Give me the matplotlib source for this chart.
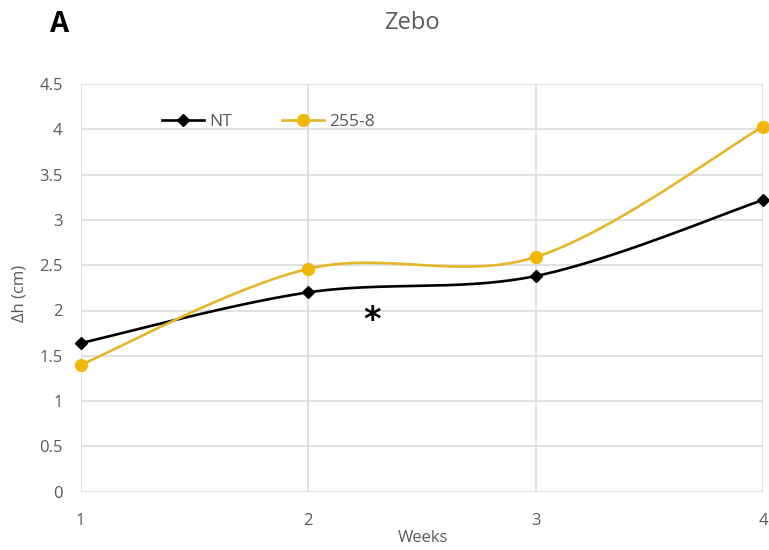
import numpy as np
import matplotlib
matplotlib.use("Agg")
import matplotlib.pyplot as plt
from matplotlib.lines import Line2D

# Plant height gain per week
weeks = [1, 2, 3, 4]
nt_values = [1.64, 2.20, 2.38, 3.22]
line_255_8 = [1.40, 2.46, 2.59, 4.03]
series_names = ["NT", "255-8"]
y_ticks = [0, 0.5, 1, 1.5, 2, 2.5, 3, 3.5, 4, 4.5]
y_tick_labels = ["0", "0.5", "1", "1.5", "2", "2.5", "3", "3.5", "4", "4.5"]

TEXT = "#595959"
GOLD_LINE = "#E5B52A"
GOLD_MARK = "#F2B705"
FONT = "Open Sans"


def smooth(xs, ys, n=60):
    """Catmull-Rom style cubic Bezier through every point."""
    p = np.column_stack([xs, ys]).astype(float)
    ext = np.vstack([p[0], p, p[-1]])
    out = []
    t = np.linspace(0, 1, n)[:, None]
    for i in range(len(p) - 1):
        p0, p1, p2, p3 = ext[i], ext[i + 1], ext[i + 2], ext[i + 3]
        c1 = p1 + (p2 - p0) / 6.0
        c2 = p2 - (p3 - p1) / 6.0
        seg = ((1 - t) ** 3) * p1 + 3 * ((1 - t) ** 2) * t * c1 \
            + 3 * (1 - t) * t ** 2 * c2 + t ** 3 * p2
        out.append(seg if i == 0 else seg[1:])
    seg = np.vstack(out)
    return seg[:, 0], seg[:, 1]


fig = plt.figure(figsize=(7.69, 5.5), dpi=100)
ax = fig.add_axes([80.7 / 769, 1 - 491.7 / 550, (763 - 80.7) / 769, (491.7 - 84) / 550])

sx, sy = smooth(weeks, nt_values)
ax.plot(sx, sy, color="black", lw=1.9, zorder=3, solid_capstyle="round")
ax.plot(weeks, nt_values, ls="none", marker="D", ms=6, color="black", zorder=4)

sx, sy = smooth(weeks, line_255_8)
ax.plot(sx, sy, color=GOLD_LINE, lw=1.9, zorder=3, solid_capstyle="round")
ax.plot(weeks, line_255_8, ls="none", marker="o", ms=8.5, color=GOLD_MARK,
        markeredgecolor=GOLD_MARK, zorder=4)

ax.set_xlim(1, 4)
ax.set_ylim(0, 4.5)
ax.set_xticks(weeks)
ax.set_xticklabels([str(w) for w in weeks])
ax.set_yticks(y_ticks)
ax.set_yticklabels(y_tick_labels)
ax.grid(True, color="#d9d9d9", lw=1.1)
ax.set_axisbelow(True)
for s in ax.spines.values():
    s.set_visible(False)
ax.tick_params(axis="both", length=0, colors=TEXT, labelsize=12)
ax.tick_params(axis="y", pad=13)
ax.tick_params(axis="x", pad=15)
for lab in ax.get_xticklabels() + ax.get_yticklabels():
    lab.set_fontfamily(FONT)

for ln in ax.lines:
    ln.set_clip_on(False)

# Significance mark
ax.text(2.28, 1.89, "*", ha="center", va="center", fontsize=24,
        fontweight="bold", color="black", family="DejaVu Sans")

# Legend
handles = [
    Line2D([], [], color="black", lw=1.9, marker="D", ms=6),
    Line2D([], [], color=GOLD_LINE, lw=1.9, marker="o", ms=8.5,
           markerfacecolor=GOLD_MARK, markeredgecolor=GOLD_MARK),
]
leg = ax.legend(handles, series_names, ncol=2, frameon=False,
                loc="center left", bbox_to_anchor=(162 / 769, 1 - 122 / 550),
                bbox_transform=fig.transFigure, borderpad=0, borderaxespad=0,
                handlelength=2.4, handletextpad=0.3, columnspacing=2.9,
                prop={"family": FONT, "size": 12.5})
for t in leg.get_texts():
    t.set_color(TEXT)

fig.text(412 / 769, 1 - 23 / 550, "Zebo", ha="center", va="center",
         fontsize=17, color=TEXT, family=FONT)
fig.text(60 / 769, 1 - 25 / 550, "A", ha="center", va="center",
         fontsize=20, fontweight="bold", color="black", family=FONT)
fig.text(20 / 769, 1 - 293 / 550, "Δh (cm)", ha="center", va="center",
         rotation=90, fontsize=12, color=TEXT, family=FONT)
fig.text(423 / 769, 1 - 538 / 550, "Weeks", ha="center", va="center",
         fontsize=12, color=TEXT, family=FONT)

fig.savefig("out.png", dpi=100)
